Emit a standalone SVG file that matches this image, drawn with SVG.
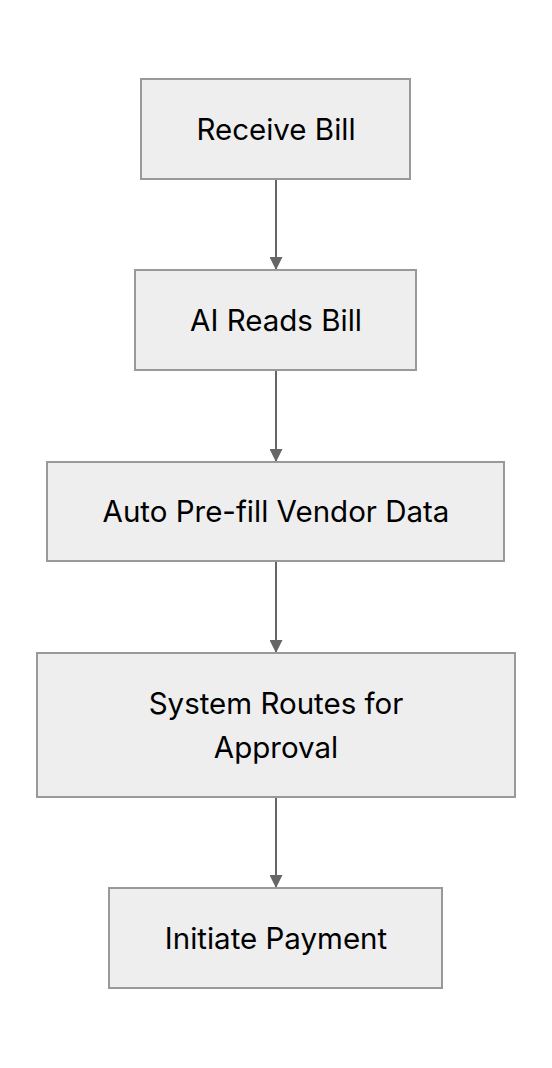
<svg xmlns="http://www.w3.org/2000/svg" width="552" height="1068" viewBox="0 0 552 1068">
<style>
.n rect{fill:#eeeeee;stroke:#999999;stroke-width:2}
.n text{font-family:Inter,"Noto Sans",sans-serif;font-size:29.5px;fill:#000;text-anchor:middle;dominant-baseline:central}
.e path{stroke:#666666;stroke-width:2;fill:none;marker-end:url(#ah)}
</style>
<defs>
<marker id="ah" viewBox="0 0 10 10" refX="10" refY="5" markerWidth="13" markerHeight="13" markerUnits="userSpaceOnUse" orient="auto"><path d="M0,0 L10,5 L0,10 z" fill="#666666"/></marker>
</defs>
<rect width="552" height="1068" fill="#ffffff"/>
<g id="edges" class="e">
<path d="M276,179 V270"/>
<path d="M276,370 V462"/>
<path d="M276,561 V653"/>
<path d="M276,797 V888"/>
</g>
<g id="n1" class="n"><rect x="141" y="79" width="269" height="100"/><text x="276" y="129">Receive Bill</text></g>
<g id="n2" class="n"><rect x="135" y="270" width="281" height="100"/><text x="276" y="320">AI Reads Bill</text></g>
<g id="n3" class="n"><rect x="47" y="462" width="457" height="99"/><text x="276" y="511">Auto Pre-fill Vendor Data</text></g>
<g id="n4" class="n"><rect x="37" y="653" width="478" height="144"/><text x="276" y="703">System Routes for</text><text x="276" y="747">Approval</text></g>
<g id="n5" class="n"><rect x="109" y="888" width="333" height="100"/><text x="276" y="938">Initiate Payment</text></g>
</svg>
